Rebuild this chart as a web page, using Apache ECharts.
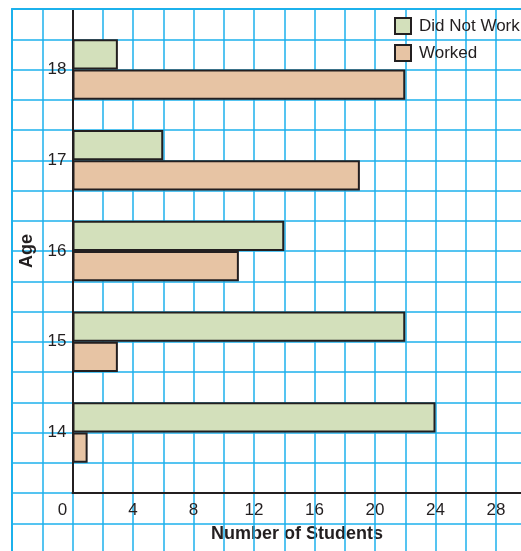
<!DOCTYPE html>
<html>
<head>
<meta charset="utf-8">
<script src="https://cdn.jsdelivr.net/npm/echarts@6/dist/echarts.min.js"></script>
<style>
  html, body { margin: 0; padding: 0; background: #ffffff; }
  #chart { width: 521px; height: 551px; }
</style>
</head>
<body>
<div id="chart"></div>
<script>
// ---- data ----
const ages = [14, 15, 16, 17, 18];
const didNotWork = [24, 22, 14, 6, 3];
const worked = [1, 3, 11, 19, 22];
const seriesNames = ['Did Not Work', 'Worked'];
const xTickLabels = ['0', '4', '8', '12', '16', '20', '24', '28'];
const xAxisTitle = 'Number of Students';
const yAxisTitle = 'Age';

// ---- build slot layout (3 grid rows per age) ----
const SLOTS = 16;
const slotCats = [];
for (let i = 0; i < SLOTS; i++) slotCats.push(String(i));
const greenData = new Array(SLOTS).fill(null);
const orangeData = new Array(SLOTS).fill(null);
ages.forEach((a, i) => {
  const base = (a - ages[0]) * 3;
  orangeData[base + 1] = worked[i];
  greenData[base + 2] = didNotWork[i];
});

const INK = '#231f20';
const BLUE = '#1cb1ec';
const FONT = 'Liberation Sans, Arial, Helvetica, sans-serif';

const chart = echarts.init(document.getElementById('chart'), null, { renderer: 'canvas' });

const option = {
  animation: false,
  backgroundColor: '#ffffff',
  grid: [
    { left: 12, top: 9, width: 30.25 * 18, height: 30.25 * 19, outerBoundsMode: 'none', containLabel: false },
    { left: 72.5, top: 9, width: 15.125 * 32, height: 484, outerBoundsMode: 'none', containLabel: false }
  ],
  xAxis: [
    {
      gridIndex: 0, type: 'value', min: 0, max: 18, interval: 1,
      position: 'top',
      axisLine: { show: true, lineStyle: { color: BLUE, width: 2 } },
      axisTick: { show: false }, axisLabel: { show: false },
      splitLine: { show: true, lineStyle: { color: BLUE, width: 1.5 } }
    },
    {
      gridIndex: 1, type: 'value', min: 0, max: 32, interval: 4,
      axisLine: { show: true, lineStyle: { color: INK, width: 2 } },
      axisTick: { show: false },
      splitLine: { show: false },
      axisLabel: {
        color: INK, fontSize: 17, fontFamily: FONT, margin: 9,
        formatter: function (v) {
          const idx = Math.round(v / 4);
          if (idx === 0) return '{z|' + xTickLabels[0] + '}';
          return idx < xTickLabels.length ? xTickLabels[idx] : '';
        },
        rich: { z: { color: INK, fontSize: 17, fontFamily: FONT, padding: [0, 20, 0, 0] } }
      }
    }
  ],
  yAxis: [
    {
      gridIndex: 0, type: 'value', min: 0, max: 19, interval: 1, inverse: true,
      axisLine: { show: true, lineStyle: { color: BLUE, width: 2 } },
      axisTick: { show: false }, axisLabel: { show: false },
      splitLine: { show: true, lineStyle: { color: BLUE, width: 1.5 } }
    },
    {
      gridIndex: 1, type: 'category', data: slotCats, show: false,
      boundaryGap: true
    },
    {
      gridIndex: 1, type: 'value', min: 40, max: 56, interval: 1, position: 'left',
      axisLine: { show: true, onZero: false, lineStyle: { color: INK, width: 2 } },
      axisTick: { show: false },
      splitLine: { show: false },
      axisLabel: {
        color: INK, fontSize: 17, fontFamily: FONT, margin: 6,
        formatter: function (v) {
          if (v % 3 === 0) {
            const idx = v / 3 - ages[0];
            return idx >= 0 && idx < ages.length ? String(ages[idx]) : '';
          }
          return '';
        }
      },
      name: yAxisTitle, nameLocation: 'middle', nameRotate: 90, nameGap: 36,
      nameTextStyle: { color: INK, fontSize: 18, fontWeight: 'bold', fontFamily: FONT }
    }
  ],
  legend: {
    orient: 'vertical', left: 394, top: 17, padding: 0,
    itemWidth: 16, itemHeight: 16, itemGap: 9,
    icon: 'rect',
    data: seriesNames,
    textStyle: { color: INK, fontSize: 17, fontFamily: FONT, padding: [0, 0, 0, 3] },
    itemStyle: { borderColor: INK, borderWidth: 2 }
  },
  graphic: [
    {
      type: 'text', left: 211, top: 525,
      style: { text: xAxisTitle, fill: INK, font: 'bold 18px ' + FONT }
    }
  ],
  series: [
    {
      name: seriesNames[0], type: 'bar', xAxisIndex: 1, yAxisIndex: 1,
      data: greenData, barWidth: '100%', barGap: '-100%',
      itemStyle: { color: '#d3e0bb', borderColor: INK, borderWidth: 2 }
    },
    {
      name: seriesNames[1], type: 'bar', xAxisIndex: 1, yAxisIndex: 1,
      data: orangeData, barWidth: '100%', barGap: '-100%',
      itemStyle: { color: '#e7c4a4', borderColor: INK, borderWidth: 2 }
    }
  ]
};
chart.setOption(option);
</script>
</body>
</html>
